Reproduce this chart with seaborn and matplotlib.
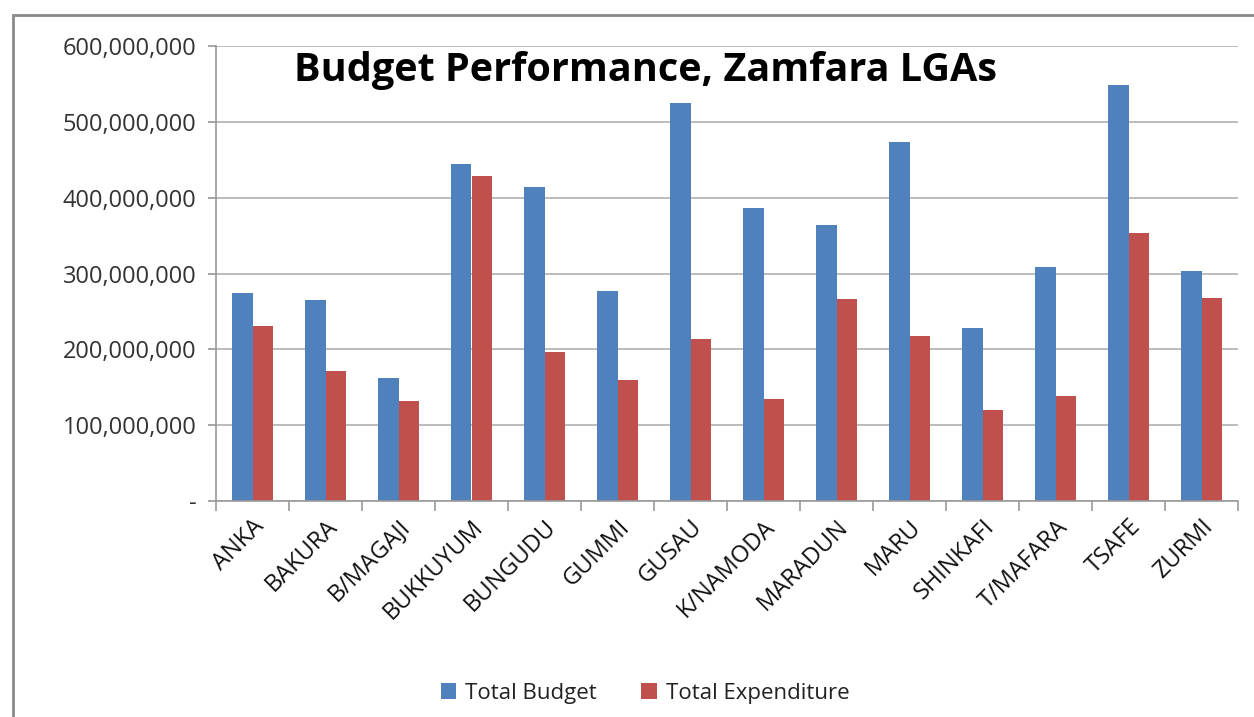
import numpy as np
import pandas as pd
import matplotlib
matplotlib.use("Agg")
import matplotlib.pyplot as plt
import matplotlib.ticker as mticker
from matplotlib.patches import Rectangle
import seaborn as sns

LGAS = ["ANKA", "BAKURA", "B/MAGAJI", "BUKKUYUM", "BUNGUDU", "GUMMI", "GUSAU",
        "K/NAMODA", "MARADUN", "MARU", "SHINKAFI", "T/MAFARA", "TSAFE", "ZURMI"]
total_budget = [274e6, 265e6, 162e6, 445e6, 414e6, 277e6, 525e6,
                386e6, 364e6, 474e6, 228e6, 308e6, 549e6, 303e6]
total_expenditure = [231e6, 171e6, 132e6, 428e6, 197e6, 159e6, 214e6,
                     134e6, 267e6, 218e6, 120e6, 138e6, 353e6, 268e6]
SERIES = ["Total Budget", "Total Expenditure"]
COLORS = ["#4F81BD", "#C0504D"]

df = pd.DataFrame({
    "lga": LGAS * 2,
    "series": [SERIES[0]] * len(LGAS) + [SERIES[1]] * len(LGAS),
    "value": total_budget + total_expenditure,
})

sns.set_theme(style="white")
plt.rcParams["font.family"] = ["Open Sans", "DejaVu Sans"]

fig = plt.figure(figsize=(12.54, 7.17), dpi=100)
ax = fig.add_axes([216 / 1254, 1 - 501 / 717, (1238 - 216) / 1254, (501 - 46) / 717])

sns.barplot(data=df, x="lga", y="value", hue="series", palette=COLORS,
            width=0.56, saturation=1, linewidth=0, ax=ax)

ax.set_ylim(0, 600e6)
ax.set_xlim(-0.5, len(LGAS) - 0.5)
ax.yaxis.set_major_locator(mticker.MultipleLocator(100e6))
ax.yaxis.set_major_formatter(mticker.FuncFormatter(
    lambda v, _: "-" if v == 0 else f"{v:,.0f}"))
ax.grid(axis="y", color="#b0b0b0", lw=1.2)
ax.set_axisbelow(True)
for s in ("top", "right"):
    ax.spines[s].set_visible(False)
for s in ("left", "bottom"):
    ax.spines[s].set_color("#9a9a9a")
    ax.spines[s].set_linewidth(1.2)

ax.tick_params(axis="y", labelsize=17, labelcolor="#333333", length=6,
               color="#9a9a9a", left=True, pad=8)
ax.set_xticks(np.arange(len(LGAS)))
ax.set_xticklabels(LGAS, rotation=45, ha="right", rotation_mode="anchor",
                   fontsize=17, color="#111111")
ax.tick_params(axis="x", which="major", length=0, pad=10)
ax.set_xticks(np.arange(len(LGAS) + 1) - 0.5, minor=True)
ax.tick_params(axis="x", which="minor", length=7, color="#9a9a9a", width=1.2,
               bottom=True)
ax.set_xlabel("")
ax.set_ylabel("")

ax.legend(loc="center", bbox_to_anchor=(645 / 1254, 1 - 693 / 717),
          bbox_transform=fig.transFigure, ncol=2, frameon=False,
          fontsize=16, handlelength=0.7, handleheight=0.7, columnspacing=2.0,
          handletextpad=0.4, labelcolor="#222222")

fig.text(645 / 1254, 1 - 70 / 717, "Budget Performance, Zamfara LGAs",
         ha="center", va="center", fontsize=28.5, fontweight="bold",
         color="black")

fig.patches.append(Rectangle((13 / 1254, -0.05), 1.1, 1 - 15 / 717 + 0.05,
                             transform=fig.transFigure, fill=False,
                             edgecolor="#8a8a8a", lw=2))

fig.savefig("out.png", dpi=100)
